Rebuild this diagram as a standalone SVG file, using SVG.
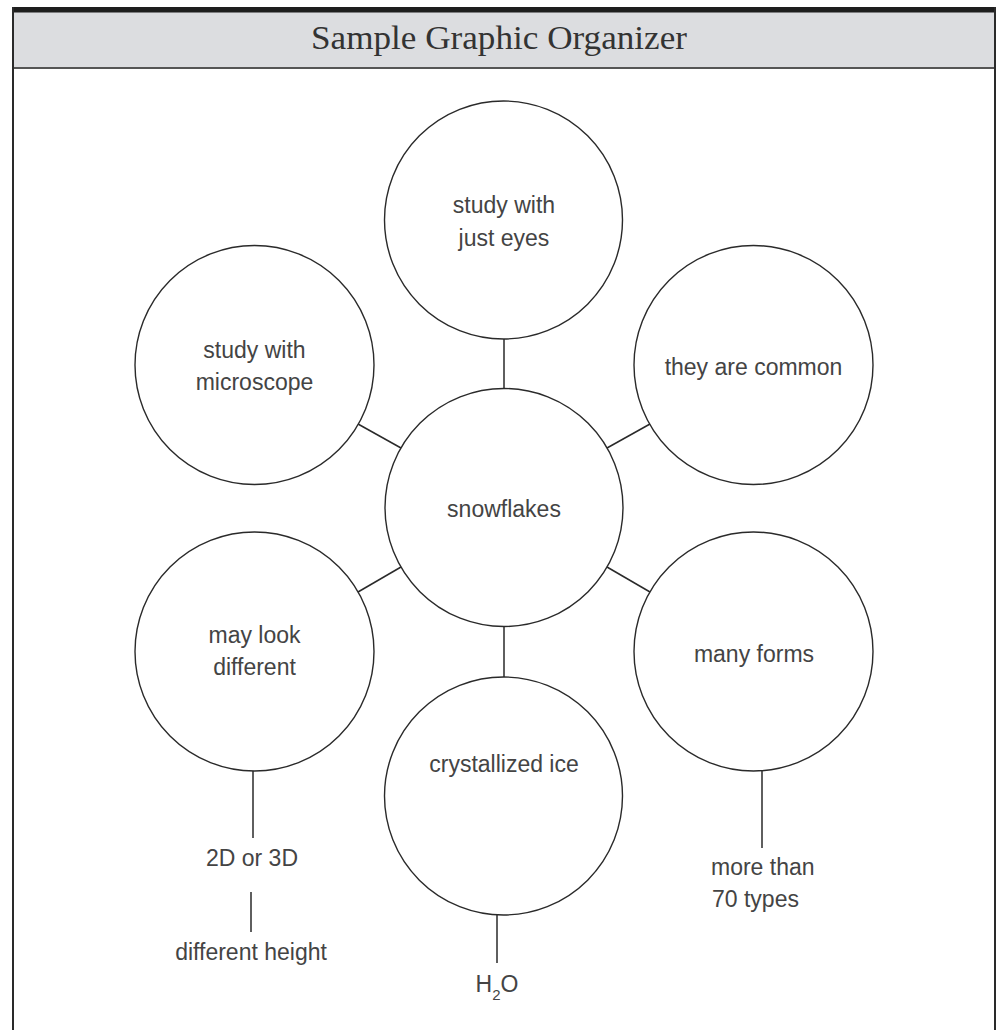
<svg xmlns="http://www.w3.org/2000/svg" width="998" height="1030" viewBox="0 0 998 1030">
<style>
.node circle{fill:#fff;stroke:#2a2a2a;stroke-width:1.4}
.lbl{font-family:"Liberation Sans","DejaVu Sans",sans-serif;font-size:23px;fill:#444;text-anchor:middle}
.conn line{stroke:#2a2a2a;stroke-width:1.5}
.frame{stroke:#2a2a2a;stroke-width:2;fill:none}
</style>
<rect x="0" y="0" width="998" height="1030" fill="#fff"/>
<g id="header">
<rect x="12" y="12" width="984" height="56" fill="#dcdde0"/>
<rect x="12" y="7" width="984" height="5.5" fill="#1e1e1e"/>
<line x1="12" y1="68" x2="996" y2="68" stroke="#555" stroke-width="2"/>
<text x="499" y="49" font-family="Liberation Serif,serif" font-size="34" fill="#333" text-anchor="middle" textLength="376" lengthAdjust="spacingAndGlyphs">Sample Graphic Organizer</text>
</g>
<g id="frame">
<line class="frame" x1="13" y1="7" x2="13" y2="1030"/>
<line class="frame" x1="995" y1="7" x2="995" y2="1030"/>
</g>
<g id="connectors" class="conn">
<line x1="504" y1="339" x2="504" y2="388"/>
<line x1="504" y1="627" x2="504" y2="677"/>
<line x1="358" y1="424" x2="401" y2="448"/>
<line x1="650" y1="424" x2="607" y2="448"/>
<line x1="401" y1="567" x2="358" y2="592"/>
<line x1="607" y1="567" x2="650" y2="592"/>
<line x1="253" y1="771" x2="253" y2="838"/>
<line x1="251" y1="892" x2="251" y2="932"/>
<line x1="497" y1="915" x2="497" y2="963"/>
<line x1="762" y1="771" x2="762" y2="848"/>
</g>
<g id="node-center" class="node">
<circle cx="504" cy="507.5" r="119"/>
<text class="lbl" x="504" y="517">snowflakes</text>
</g>
<g id="node-top" class="node">
<circle cx="503.5" cy="220" r="119"/>
<text class="lbl" x="504" y="213">study with</text>
<text class="lbl" x="504" y="246">just eyes</text>
</g>
<g id="node-top-left" class="node">
<circle cx="254.5" cy="365" r="119.5"/>
<text class="lbl" x="254.5" y="358">study with</text>
<text class="lbl" x="254.5" y="390">microscope</text>
</g>
<g id="node-top-right" class="node">
<circle cx="753.5" cy="365" r="119.5"/>
<text class="lbl" x="753.5" y="375">they are common</text>
</g>
<g id="node-bottom-left" class="node">
<circle cx="254.5" cy="651.5" r="119.5"/>
<text class="lbl" x="254.5" y="643">may look</text>
<text class="lbl" x="254.5" y="675">different</text>
</g>
<g id="node-bottom-right" class="node">
<circle cx="753.5" cy="651.5" r="119.5"/>
<text class="lbl" x="754" y="662">many forms</text>
</g>
<g id="node-bottom" class="node">
<circle cx="503.5" cy="796" r="119"/>
<text class="lbl" x="504" y="772">crystallized ice</text>
</g>
<g id="leaf-2d3d">
<text class="lbl" x="252" y="866">2D or 3D</text>
</g>
<g id="leaf-height">
<text class="lbl" x="251" y="960">different height</text>
</g>
<g id="leaf-h2o">
<text class="lbl" x="497" y="992">H<tspan font-size="15" dy="8">2</tspan><tspan dy="-8">O</tspan></text>
</g>
<g id="leaf-types">
<text class="lbl" x="711" y="875" style="text-anchor:start">more than</text>
<text class="lbl" x="712" y="907" style="text-anchor:start">70 types</text>
</g>
</svg>
